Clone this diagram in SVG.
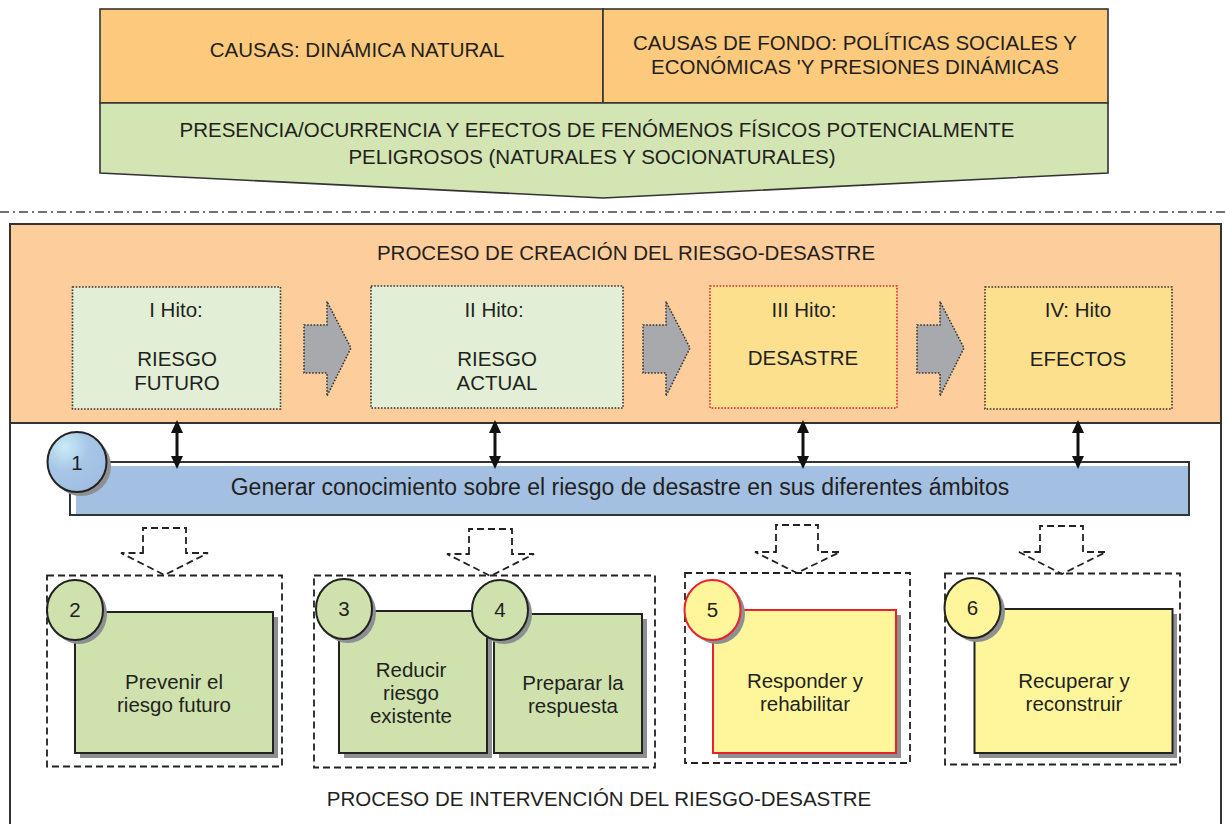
<svg xmlns="http://www.w3.org/2000/svg" width="1225" height="824" viewBox="0 0 1225 824">
<defs>
<style>
text{font-family:"Liberation Sans",Arial,sans-serif;fill:#231f20;text-anchor:middle}
.t20{font-size:20.5px}
.t23{font-size:23px}
.hito{stroke:#333;stroke-width:1.6;stroke-dasharray:1.6 1.6}
.garrow{fill:#a7a9ac;stroke:#333;stroke-width:1.5;stroke-dasharray:1.6 1.6}
.dash{fill:none;stroke:#222;stroke-width:1.8;stroke-dasharray:7 4}
.shadow{fill:#8d8f91}
.box{stroke:#222;stroke-width:2}
.green{fill:#cfe2ae}
.yellow{fill:#fff69b}
</style>
<radialGradient id="blueg" cx="0.3" cy="0.25" r="0.8">
<stop offset="0" stop-color="#c9ebf8"/>
<stop offset="0.5" stop-color="#a7c6e6"/>
<stop offset="1" stop-color="#a1bee2"/>
</radialGradient>
</defs>

<!-- Top causes -->
<g id="causas-natural">
<rect x="100" y="9" width="503" height="94" fill="#fdc97c" stroke="#333" stroke-width="1.6"/>
<text class="t20" x="357" y="57">CAUSAS: DINÁMICA NATURAL</text>
</g>
<g id="causas-fondo">
<rect x="603" y="9" width="505" height="94" fill="#fdc97c" stroke="#333" stroke-width="1.6"/>
<text class="t20" x="855" y="50">CAUSAS DE FONDO: POLÍTICAS SOCIALES Y</text>
<text class="t20" x="855" y="74">ECONÓMICAS 'Y PRESIONES DINÁMICAS</text>
</g>
<g id="fenomenos">
<polygon points="100,103 1108,103 1108,173 603,198 100,173" fill="#d3e5b3" stroke="#333" stroke-width="1.6"/>
<text class="t20" x="597" y="137">PRESENCIA/OCURRENCIA Y EFECTOS DE FENÓMENOS FÍSICOS POTENCIALMENTE</text>
<text class="t20" x="592" y="164">PELIGROSOS (NATURALES Y SOCIONATURALES)</text>
</g>

<line x1="0" y1="212" x2="1225" y2="212" stroke="#444" stroke-width="1.5" stroke-dasharray="9 4 2 4"/>

<!-- Outer frame -->
<g id="intervencion-frame">
<line x1="10" y1="423" x2="10" y2="824" stroke="#333" stroke-width="2"/>
<line x1="1221" y1="423" x2="1221" y2="824" stroke="#333" stroke-width="2"/>
<text class="t20" x="599" y="806">PROCESO DE INTERVENCIÓN DEL RIESGO-DESASTRE</text>
</g>

<!-- Creation process panel -->
<g id="creacion">
<rect x="10" y="224" width="1211" height="199" fill="#fdcd9b" stroke="#333" stroke-width="2"/>
<text class="t20" x="626" y="260">PROCESO DE CREACIÓN DEL RIESGO-DESASTRE</text>
</g>

<g id="hito1">
<rect class="hito" x="72.5" y="287" width="208" height="122" fill="#e2efd6"/>
<text class="t20" x="176" y="317">I Hito:</text>
<text class="t20" x="177" y="366">RIESGO</text>
<text class="t20" x="177" y="390">FUTURO</text>
</g>
<g id="hito2">
<rect class="hito" x="371" y="286" width="252" height="122" fill="#e2efd6"/>
<text class="t20" x="494" y="317">II Hito:</text>
<text class="t20" x="497" y="366">RIESGO</text>
<text class="t20" x="497" y="390">ACTUAL</text>
</g>
<g id="hito3">
<rect class="hito" x="710" y="286" width="187" height="122" fill="#fde08e" stroke="#e8222a" style="stroke:#e8222a"/>
<text class="t20" x="804" y="317">III Hito:</text>
<text class="t20" x="803" y="365">DESASTRE</text>
</g>
<g id="hito4">
<rect class="hito" x="985" y="287" width="187" height="122" fill="#fde08e"/>
<text class="t20" x="1078" y="317">IV: Hito</text>
<text class="t20" x="1078" y="366">EFECTOS</text>
</g>

<!-- Gray process arrows -->
<g id="flow-arrows">
<polygon class="garrow" points="304,325 327,325 327,301.5 351,348 327,396 327,373 304,373"/>
<polygon class="garrow" transform="translate(339,0)" points="304,325 327,325 327,301.5 351,348 327,396 327,373 304,373"/>
<polygon class="garrow" transform="translate(613,0)" points="304,325 327,325 327,301.5 351,348 327,396 327,373 304,373"/>
</g>

<!-- Knowledge bar -->
<g id="conocimiento">
<rect x="70" y="462" width="1119" height="53" fill="#fff" stroke="#333" stroke-width="2"/>
<rect x="76" y="466" width="1112" height="48" fill="#a3c0e2"/>
<line x1="70" y1="515" x2="1189" y2="515" stroke="#333" stroke-width="2"/>
<line x1="1189" y1="462" x2="1189" y2="515" stroke="#333" stroke-width="2"/>
<text class="t23" x="620" y="495">Generar conocimiento sobre el riesgo de desastre en sus diferentes ámbitos</text>
<ellipse class="shadow" cx="81" cy="466" rx="30" ry="30"/>
<ellipse cx="77" cy="462" rx="29.5" ry="30" fill="url(#blueg)" stroke="#222" stroke-width="2"/>
<text class="t20" x="77" y="470">1</text>
</g>

<!-- Double arrows -->
<g id="connectors" fill="#111" stroke="#111">
<g id="c1">
<line x1="177" y1="430" x2="177" y2="459" stroke-width="3"/>
<polygon points="177,420 171,433 183,433" stroke="none"/>
<polygon points="177,469 171,456 183,456" stroke="none"/>
</g>
<g id="c2">
<line x1="495" y1="430" x2="495" y2="459" stroke-width="3"/>
<polygon points="495,420 489,433 501,433" stroke="none"/>
<polygon points="495,469 489,456 501,456" stroke="none"/>
</g>
<g id="c3">
<line x1="803" y1="430" x2="803" y2="459" stroke-width="3"/>
<polygon points="803,420 797,433 809,433" stroke="none"/>
<polygon points="803,469 797,456 809,456" stroke="none"/>
</g>
<g id="c4">
<line x1="1078" y1="430" x2="1078" y2="459" stroke-width="3"/>
<polygon points="1078,420 1072,433 1084,433" stroke="none"/>
<polygon points="1078,469 1072,456 1084,456" stroke="none"/>
</g>
<!-- dashed hollow arrows -->
<path class="dash" d="M143,553 V528 H186 V553 H208 L164.5,575 L121,553 Z"/>
<path class="dash" d="M469,554 V529 H512 V554 H534 L490.5,576 L447,554 Z"/>
<path class="dash" d="M776,552 V525 H818 V552 H840 L797,573 L755,552 Z"/>
<path class="dash" d="M1040,552 V526 H1083 V552 H1106 L1062,574 L1019,552 Z"/>
</g>

<!-- Groups -->
<g id="group1">
<rect class="dash" x="47" y="575.5" width="235" height="191"/>
</g>
<g id="group2">
<rect class="dash" x="314" y="575.5" width="341" height="192"/>
</g>
<g id="group3">
<rect class="dash" x="685" y="573" width="225" height="190"/>
</g>
<g id="group4">
<rect class="dash" x="945" y="573.5" width="235" height="191"/>
</g>

<g id="node2">
<rect class="shadow" x="80" y="617" width="198" height="141"/>
<rect class="box green" x="75" y="612" width="198" height="141"/>
<ellipse class="shadow" cx="79" cy="614" rx="28" ry="30"/>
<ellipse class="box green" cx="75" cy="610" rx="28" ry="30"/>
<text class="t20" x="75" y="617">2</text>
<text class="t20" x="174" y="689">Prevenir el</text>
<text class="t20" x="174" y="712">riesgo futuro</text>
</g>
<g id="node3">
<rect class="shadow" x="344" y="616" width="148" height="142"/>
<rect class="box green" x="339" y="611" width="148" height="142"/>
<ellipse class="shadow" cx="348" cy="613" rx="28" ry="30"/>
<ellipse class="box green" cx="344" cy="609" rx="28" ry="30"/>
<text class="t20" x="344" y="616">3</text>
<text class="t20" x="411" y="677">Reducir</text>
<text class="t20" x="411" y="700">riesgo</text>
<text class="t20" x="411" y="723">existente</text>
</g>
<g id="node4">
<rect class="shadow" x="499" y="619" width="148" height="139"/>
<rect class="box green" x="494" y="614" width="148" height="139"/>
<ellipse class="shadow" cx="504" cy="614" rx="28" ry="30"/>
<ellipse class="box green" cx="500" cy="610" rx="28" ry="30"/>
<text class="t20" x="500" y="617">4</text>
<text class="t20" x="573" y="690">Preparar la</text>
<text class="t20" x="573" y="713">respuesta</text>
</g>
<g id="node5">
<rect class="shadow" x="718" y="615" width="183" height="143"/>
<rect class="yellow" x="713" y="610" width="183" height="143" stroke="#e8222a" stroke-width="2"/>
<ellipse class="shadow" cx="717" cy="614" rx="28" ry="30"/>
<ellipse class="yellow" cx="712.5" cy="610" rx="28" ry="30" stroke="#e8222a" stroke-width="2"/>
<text class="t20" x="712.5" y="617">5</text>
<text class="t20" x="805" y="688">Responder y</text>
<text class="t20" x="805" y="711">rehabilitar</text>
</g>
<g id="node6">
<rect class="shadow" x="979" y="614" width="198" height="144"/>
<rect class="box yellow" x="974.5" y="609" width="198" height="144"/>
<ellipse class="shadow" cx="977" cy="612" rx="28" ry="30"/>
<ellipse class="box yellow" cx="972.5" cy="608" rx="28" ry="30"/>
<text class="t20" x="972.5" y="615">6</text>
<text class="t20" x="1074" y="688">Recuperar y</text>
<text class="t20" x="1074" y="711">reconstruir</text>
</g>
</svg>
